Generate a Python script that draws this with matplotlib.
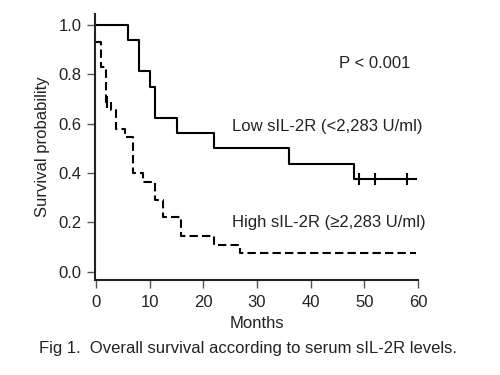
import matplotlib
matplotlib.use("Agg")
import matplotlib.pyplot as plt

plt.rcParams['font.family'] = ['Liberation Sans', 'DejaVu Sans']

# Low sIL-2R group (solid)
low_t = [0, 6, 8, 10, 11, 15, 22, 36, 48, 59.7]
low_s = [1.0, 0.9375, 0.8125, 0.75, 0.625, 0.5625, 0.5, 0.4375, 0.375, 0.375]
low_cens_t = [49, 52, 58]
low_cens_s = [0.375, 0.375, 0.375]

# High sIL-2R group (dashed)
high_t = [0, 1.0, 1.8, 2.8, 3.8, 5.3, 6.8, 8.8, 10.9, 12.4, 15.9, 22, 26.8, 59.7]
high_s = [0.93, 0.83, 0.69, 0.655, 0.58, 0.547, 0.40, 0.365, 0.29, 0.22, 0.146, 0.11, 0.074, 0.074]
high_cens_t = [2.0]
high_cens_s = [0.69]

xticks = [0, 10, 20, 30, 40, 50, 60]
yticks = [0.0, 0.2, 0.4, 0.6, 0.8, 1.0]

fig = plt.figure(figsize=(5, 3.75), dpi=100)
ax = fig.add_axes([0.19, 0.2533, 0.646, 0.7094])

ax.step(low_t, low_s, where='post', color='black', lw=1.5)
ax.plot(low_cens_t, low_cens_s, ls='none', marker='|', ms=9, mew=1.5, color='black')

ax.step(high_t, high_s, where='post', color='black', lw=1.5, linestyle=(0, (4, 2)))
ax.plot(high_cens_t, high_cens_s, ls='none', marker='|', ms=9, mew=1.5, color='black')

ax.set_xlim(-0.2, 60)
ax.set_ylim(-0.034, 1.045)
ax.set_xticks(xticks)
ax.set_yticks(yticks)
ax.set_yticklabels(['%.1f' % v for v in yticks])

for s in ['top', 'right']:
    ax.spines[s].set_visible(False)
for s in ['left', 'bottom']:
    ax.spines[s].set_linewidth(1.5)
    ax.spines[s].set_color('#222222')
ax.spines['bottom'].set_bounds(0, 60)
ax.tick_params(direction='out', length=6, width=1, colors='#555555',
               labelcolor='#222222', labelsize=12)
ax.tick_params(axis='x', pad=5)

ax.set_xlabel('Months', fontsize=12, color='#222222', labelpad=4)
ax.set_ylabel('Survival probability', fontsize=12, color='#222222', labelpad=6)

ax.text(52, 0.846, 'P < 0.001', fontsize=12, ha='center', va='center', color='#222222')
ax.text(25.3, 0.59, 'Low sIL-2R (<2,283 U/ml)', fontsize=12, ha='left', va='center', color='#222222')
ax.text(25.3, 0.2, 'High sIL-2R (\u22652,283 U/ml)', fontsize=12, ha='left', va='center', color='#222222')

fig.text(0.495, 1 - 348 / 375, 'Fig 1.  Overall survival according to serum sIL-2R levels.',
         fontsize=12, ha='center', va='center', color='#222222')

fig.savefig('out.png', dpi=100)
